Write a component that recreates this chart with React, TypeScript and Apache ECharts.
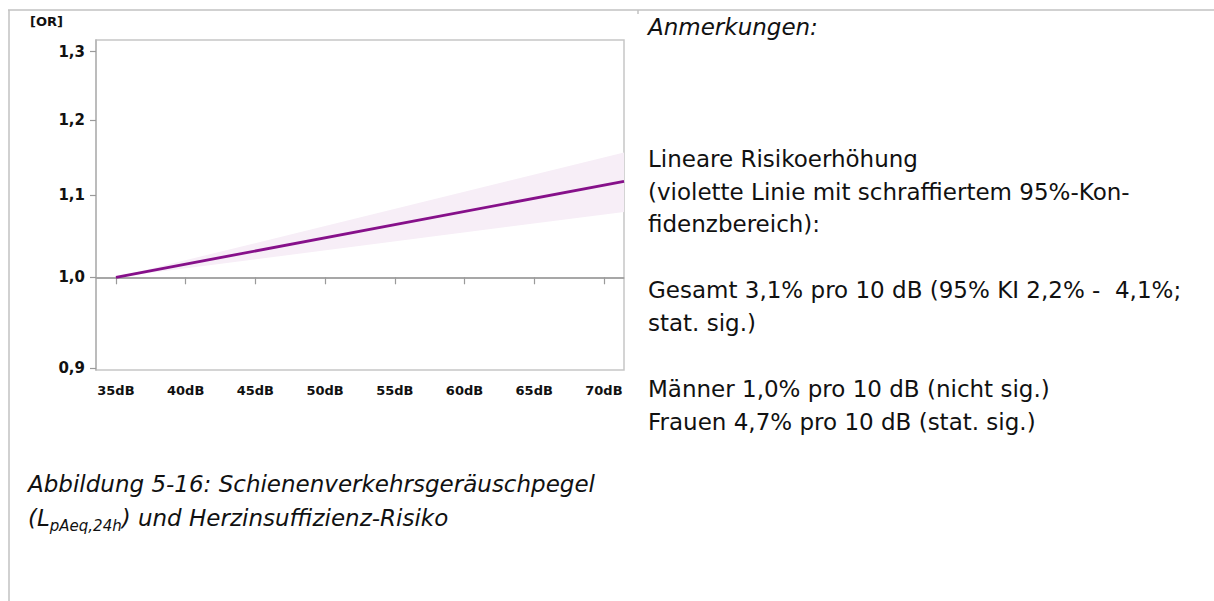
import React, { useEffect, useRef } from 'react';
import * as echarts from 'echarts';

const FONT = '"DejaVu Sans", Verdana, sans-serif';

// ---- axes ----
const xTicks = [35, 40, 45, 50, 55, 60, 65, 70];
const xTickLabels = ['35dB', '40dB', '45dB', '50dB', '55dB', '60dB', '65dB', '70dB'];
const xRange = [33.57, 71.44];
const yTicks = [0.9, 1.0, 1.1, 1.2, 1.3];
const yTickLabels = ['0,9', '1,0', '1,1', '1,2', '1,3'];
const yRange = [0.8978, 1.3177]; // OR at plot bottom / top (log scale)
const yAxisTitle = '[OR]';

// ---- data ----
const levelsDb = [35, 71.44];
const orEstimate = [1.0, 1.118];
const orLower = [1.0, 1.079];
const orUpper = [1.0, 1.156];
const referenceOR = [1.0];

// ---- texts ----
const noteTitle = 'Anmerkungen:';
const noteLines = [
  '', '', '',
  'Lineare Risikoerhöhung',
  '(violette Linie mit schraffiertem 95%-Kon-',
  'fidenzbereich):',
  '',
  'Gesamt 3,1% pro 10 dB (95% KI 2,2% -  4,1%;',
  'stat. sig.)',
  '',
  'Männer 1,0% pro 10 dB (nicht sig.)',
  'Frauen 4,7% pro 10 dB (stat. sig.)',
];
const captionLine1 = 'Abbildung 5-16: Schienenverkehrsgeräuschpegel';
const captionLine2Parts = ['(L', 'pAeq,24h', ') und Herzinsuffizienz-Risiko'];

const PURPLE = '#86108a';
const BAND = '#f7eef7';

function labelFor(ticks: number[], labels: string[], v: number, tf: (t: number) => number) {
  const i = ticks.findIndex((t) => Math.abs(tf(t) - v) < 1e-6);
  return i >= 0 ? labels[i] : '';
}

export default function App() {
  const ref = useRef<HTMLDivElement>(null);

  useEffect(() => {
    if (!ref.current) return;
    const chart = echarts.init(ref.current, null, { renderer: 'svg' });
    const ln = Math.log;

    const bandData = levelsDb.map((x, i) => [x, ln(orLower[i]), ln(orUpper[i])]);
    const lineData = levelsDb.map((x, i) => [x, ln(orEstimate[i])]);

    const lineTop0 = 27;
    const pitch = 32.9;
    const noteGraphics: any[] = [
      {
        type: 'text',
        x: 648,
        y: lineTop0,
        style: {
          text: noteTitle,
          font: `italic 23px ${FONT}`,
          fill: '#111',
          textAlign: 'left',
          textVerticalAlign: 'middle',
        },
      },
    ];
    noteLines.forEach((t, k) => {
      if (!t) return;
      noteGraphics.push({
        type: 'text',
        x: 648,
        y: lineTop0 + (k + 1) * pitch,
        style: {
          text: t,
          font: `23px ${FONT}`,
          fill: '#111',
          textAlign: 'left',
          textVerticalAlign: 'middle',
        },
      });
    });

    const option: any = {
      animation: false,
      backgroundColor: '#ffffff',
      grid: {
        left: 96,
        top: 40,
        width: 528,
        height: 330,
        show: true,
        borderColor: '#c6c6c6',
        borderWidth: 1.5,
        backgroundColor: 'transparent',
      },
      xAxis: {
        type: 'value',
        min: xRange[0],
        max: xRange[1],
        axisLine: { show: true, lineStyle: { color: '#b4b4b4', width: 1.5 } },
        axisTick: {
          show: true,
          customValues: xTicks,
          length: 7,
          lineStyle: { color: '#9a9a9a', width: 1.2 },
        },
        axisLabel: {
          customValues: xTicks,
          margin: 14,
          color: '#111',
          fontFamily: FONT,
          fontWeight: 'bold',
          fontSize: 13,
          formatter: (v: number) => labelFor(xTicks, xTickLabels, v, (t) => t),
        },
        splitLine: { show: false },
      },
      yAxis: {
        type: 'value',
        min: ln(yRange[0]),
        max: ln(yRange[1]),
        axisLine: { show: true, lineStyle: { color: '#b4b4b4', width: 1.5 } },
        axisTick: {
          show: true,
          customValues: yTicks.map(ln),
          length: 6,
          lineStyle: { color: '#9a9a9a', width: 1.2 },
        },
        axisLabel: {
          customValues: yTicks.map(ln),
          margin: 11,
          color: '#111',
          fontFamily: FONT,
          fontWeight: 'bold',
          fontSize: 15,
          formatter: (v: number) => labelFor(yTicks, yTickLabels, v, ln),
        },
        splitLine: { show: false },
      },
      series: [
        {
          type: 'custom',
          name: '95%-Konfidenzbereich',
          silent: true,
          clip: true,
          data: bandData,
          encode: { x: 0, y: [1, 2] },
          renderItem: (params: any, api: any) => {
            if (params.dataIndex !== 0) return null;
            const upper = bandData.map((d) => api.coord([d[0], d[2]]));
            const lower = bandData.map((d) => api.coord([d[0], d[1]])).reverse();
            return {
              type: 'polygon',
              shape: { points: upper.concat(lower) },
              style: { fill: BAND, stroke: null },
            };
          },
          z: 1,
        },
        {
          type: 'line',
          name: 'Lineare Risikoerhöhung',
          data: lineData,
          symbol: 'none',
          silent: true,
          lineStyle: { color: PURPLE, width: 2.8 },
          z: 3,
          markLine: {
            silent: true,
            symbol: ['none', 'none'],
            label: { show: false },
            lineStyle: { color: '#9c9c9c', width: 1.5, type: 'solid' },
            data: referenceOR.map((r) => ({ yAxis: ln(r) })),
            z: 2,
          },
        },
      ],
      graphic: [
        // frame
        { type: 'line', shape: { x1: 8, y1: 10, x2: 1214, y2: 10 }, style: { stroke: '#c2c2c2', lineWidth: 1.5 } },
        { type: 'line', shape: { x1: 9, y1: 10, x2: 9, y2: 601 }, style: { stroke: '#c2c2c2', lineWidth: 1.5 } },
        { type: 'line', shape: { x1: 638, y1: 10, x2: 638, y2: 14 }, style: { stroke: '#c2c2c2', lineWidth: 1.5 } },
        {
          type: 'text',
          x: 30,
          y: 21,
          style: {
            text: yAxisTitle,
            font: `bold 13px ${FONT}`,
            fill: '#111',
            textAlign: 'left',
            textVerticalAlign: 'middle',
          },
        },
        ...noteGraphics,
        {
          type: 'text',
          x: 28,
          y: 484,
          style: {
            text: captionLine1,
            font: `italic 23px ${FONT}`,
            fill: '#111',
            textAlign: 'left',
            textVerticalAlign: 'middle',
          },
        },
        {
          type: 'text',
          x: 28,
          y: 518,
          style: {
            text: `{a|${captionLine2Parts[0]}}{s|${captionLine2Parts[1]}}{a|${captionLine2Parts[2]}}`,
            textAlign: 'left',
            textVerticalAlign: 'middle',
            rich: {
              a: {
                fontFamily: FONT,
                fontStyle: 'italic',
                fontSize: 23,
                lineHeight: 30,
                verticalAlign: 'middle',
                fill: '#111',
              },
              s: {
                fontFamily: FONT,
                fontStyle: 'italic',
                fontSize: 15,
                lineHeight: 20,
                verticalAlign: 'bottom',
                fill: '#111',
              },
            },
          },
        },
      ],
    };

    chart.setOption(option);
    return () => chart.dispose();
  }, []);

  return (
    <div
      ref={ref}
      style={{ position: 'absolute', left: 0, top: 0, width: 1214, height: 601 }}
    />
  );
}
